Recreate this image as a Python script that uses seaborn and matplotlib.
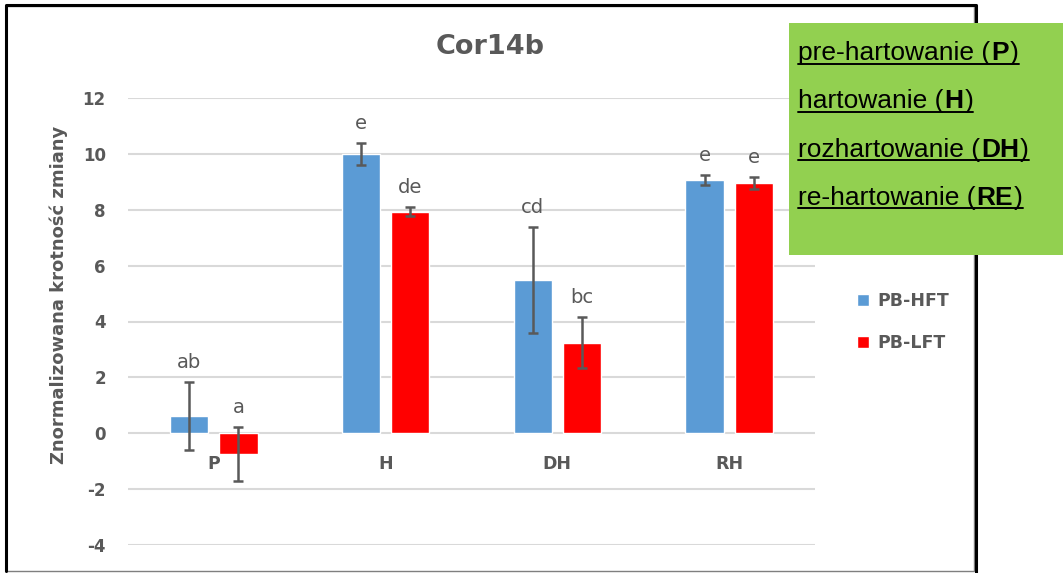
import numpy as np
import pandas as pd
import matplotlib
matplotlib.use('Agg')
import matplotlib.pyplot as plt
import seaborn as sns
from matplotlib.patches import Rectangle
from matplotlib.lines import Line2D

# data
stages = ['P', 'H', 'DH', 'RH']
lines = ['PB-HFT', 'PB-LFT']
hft_mean = [0.63, 10.0, 5.5, 9.06]
hft_err = [1.22, 0.40, 1.90, 0.18]
lft_mean = [-0.75, 7.93, 3.24, 8.97]
lft_err = [0.97, 0.17, 0.92, 0.22]
hft_letters = ['ab', 'e', 'cd', 'e']
lft_letters = ['a', 'de', 'bc', 'e']
box_lines = [('pre-hartowanie (', 'P', ')'),
             ('hartowanie (', 'H', ')'),
             ('rozhartowanie (', 'DH', ')'),
             ('re-hartowanie (', 'RE', ')')]

df = pd.DataFrame({
    'stage': stages * 2,
    'line': [lines[0]] * 4 + [lines[1]] * 4,
    'value': hft_mean + lft_mean,
})

GRAY = '#595959'
W, H = 1063, 573

sns.set_style('white')
plt.rcParams['font.family'] = ['DejaVu Sans']
plt.rcParams['axes.unicode_minus'] = False

fig = plt.figure(figsize=(W / 100, H / 100), dpi=100)
ax = fig.add_axes([128 / W, 1 - 545 / H, (815 - 128) / W, (545 - 98) / H])

sns.barplot(data=df, x='stage', y='value', hue='line',
            palette=['#5B9BD5', '#FF0000'], saturation=1, width=0.573,
            gap=0.22, errorbar=None, ax=ax)

# error bars and significance letters
for cont, means, errs, letters in zip(ax.containers, [hft_mean, lft_mean],
                                      [hft_err, lft_err],
                                      [hft_letters, lft_letters]):
    xs = [b.get_x() + b.get_width() / 2 for b in cont]
    ax.errorbar(xs, means, yerr=errs, fmt='none', ecolor=GRAY,
                elinewidth=1.8, capsize=3.6, capthick=1.8, zorder=4)
    for x, m, e, s in zip(xs, means, errs, letters):
        ax.annotate(s, (x, m + e), xytext=(0, 10), textcoords='offset points',
                    ha='center', va='baseline', fontsize=14, color=GRAY)

ax.set_ylim(-4, 12)
ax.set_yticks(range(-4, 13, 2))
ax.set_xlim(-0.5, 3.5)
ax.yaxis.grid(True, color='#D9D9D9', lw=1.5)
ax.set_axisbelow(True)
for sp in ax.spines.values():
    sp.set_visible(False)
ax.spines['bottom'].set_position(('data', 0))
ax.tick_params(axis='y', length=0, pad=16, labelsize=12, labelcolor=GRAY)
ax.tick_params(axis='x', length=0, pad=16, labelsize=12.5, labelcolor=GRAY)
for lab in ax.get_xticklabels() + ax.get_yticklabels():
    lab.set_fontweight('bold')
ax.set_xlabel('')
ax.set_ylabel('')

handles, labels = ax.get_legend_handles_labels()
ax.legend(handles, labels, loc='center left',
          bbox_to_anchor=(857 / W, 1 - 322 / H), bbox_transform=fig.transFigure,
          frameon=False, prop={'weight': 'bold', 'size': 12.5},
          labelcolor=GRAY, handlelength=0.7, handleheight=0.7,
          handletextpad=0.45, labelspacing=1.4, borderpad=0, borderaxespad=0)

fig.text(490 / W, 1 - 47 / H, 'Cor14b', ha='center', va='center',
         fontsize=19.5, fontweight='bold', color=GRAY)
fig.text(59 / W, 1 - 295 / H, 'Znormalizowana krotność zmiany', rotation=90,
         ha='center', va='center', fontsize=13, fontweight='bold', color=GRAY)

# chart border
fig.add_artist(Rectangle((6 / W, 1 - 571 / H), (974 - 6) / W, (571 - 6) / H,
                         fill=False, edgecolor='#7F7F7F', lw=1,
                         transform=fig.transFigure))
fig.add_artist(Line2D([6 / W, 6 / W, 976 / W, 976 / W],
                      [1 - 571 / H, 1 - 5 / H, 1 - 5 / H, 0],
                      color='black', lw=2.2, transform=fig.transFigure))

# green note box with underlined text
fig.add_artist(Rectangle((789 / W, 1 - 255 / H), (W - 789) / W, (255 - 23) / H,
                         facecolor='#92D050', edgecolor='none',
                         transform=fig.transFigure, zorder=5))
renderer = fig.canvas.get_renderer()
for i, parts in enumerate(box_lines):
    base = 1 - (60 + i * 48.3) / H
    x = 798 / W
    x0 = x
    for s, w in zip(parts, ['normal', 'bold', 'normal']):
        t = fig.text(x, base, s, ha='left', va='baseline', fontsize=19,
                     fontweight=w, family='Liberation Sans', color='black',
                     zorder=6)
        bb = t.get_window_extent(renderer)
        x = bb.x1 / W + 1 / W
    fig.add_artist(Line2D([x0, x - 1 / W], [base - 3.5 / H] * 2, color='black',
                          lw=1.4, transform=fig.transFigure, zorder=6))

plt.savefig('out.png', dpi=100)
